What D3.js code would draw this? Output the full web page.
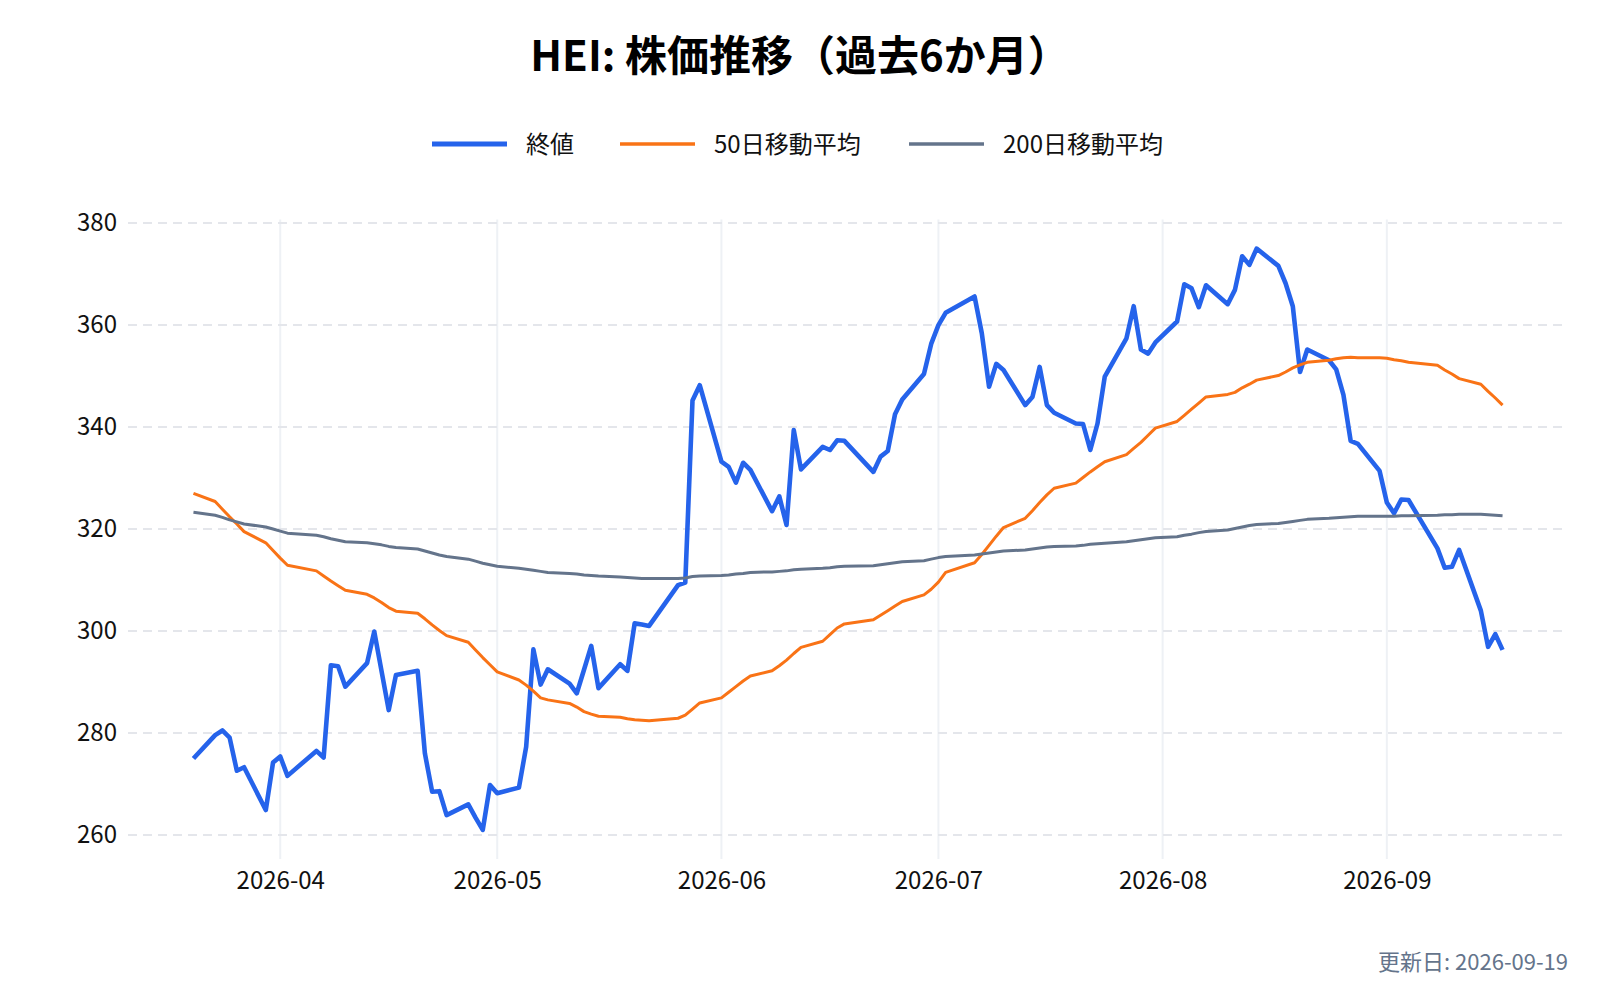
<!DOCTYPE html>
<html lang="ja">
<head>
<meta charset="UTF-8">
<title>HEI: 株価推移</title>
<script src="https://cdn.jsdelivr.net/npm/d3@7"></script>
<style>
  body { margin: 0; background: #fff; }
  svg text { font-family: "Noto Sans CJK JP", "Noto Sans", sans-serif; }
</style>
</head>
<body>
<svg id="chart" width="1600" height="1000"></svg>
<script>
// trading days (US market holidays skipped)
const tradingDays = [
  "2026-03-20","2026-03-23","2026-03-24","2026-03-25","2026-03-26","2026-03-27","2026-03-30","2026-03-31",
  "2026-04-01","2026-04-02","2026-04-06","2026-04-07","2026-04-08","2026-04-09","2026-04-10","2026-04-13",
  "2026-04-14","2026-04-15","2026-04-16","2026-04-17","2026-04-20","2026-04-21","2026-04-22","2026-04-23",
  "2026-04-24","2026-04-27","2026-04-28","2026-04-29","2026-04-30",
  "2026-05-01","2026-05-04","2026-05-05","2026-05-06","2026-05-07","2026-05-08","2026-05-11","2026-05-12",
  "2026-05-13","2026-05-14","2026-05-15","2026-05-18","2026-05-19","2026-05-20","2026-05-21","2026-05-22",
  "2026-05-26","2026-05-27","2026-05-28","2026-05-29",
  "2026-06-01","2026-06-02","2026-06-03","2026-06-04","2026-06-05","2026-06-08","2026-06-09","2026-06-10",
  "2026-06-11","2026-06-12","2026-06-15","2026-06-16","2026-06-17","2026-06-18","2026-06-22","2026-06-23",
  "2026-06-24","2026-06-25","2026-06-26","2026-06-29","2026-06-30",
  "2026-07-01","2026-07-02","2026-07-06","2026-07-07","2026-07-08","2026-07-09","2026-07-10","2026-07-13",
  "2026-07-14","2026-07-15","2026-07-16","2026-07-17","2026-07-20","2026-07-21","2026-07-22","2026-07-23",
  "2026-07-24","2026-07-27","2026-07-28","2026-07-29","2026-07-30","2026-07-31",
  "2026-08-03","2026-08-04","2026-08-05","2026-08-06","2026-08-07","2026-08-10","2026-08-11","2026-08-12",
  "2026-08-13","2026-08-14","2026-08-17","2026-08-18","2026-08-19","2026-08-20","2026-08-21","2026-08-24",
  "2026-08-25","2026-08-26","2026-08-27","2026-08-28","2026-08-31",
  "2026-09-01","2026-09-02","2026-09-03","2026-09-04","2026-09-08","2026-09-09","2026-09-10","2026-09-11",
  "2026-09-14","2026-09-15","2026-09-16","2026-09-17"
];

const closePrices = [
  275.0, 279.6, 280.5, 279.1, 272.6, 273.3, 264.9, 274.2,
  275.4, 271.6, 276.5, 275.2, 293.3, 293.1, 289.1, 293.7, 299.9, 292.2, 284.5, 291.4,
  292.2, 276.0, 268.5, 268.6, 263.9, 266.0, 263.4, 261.0, 269.8,
  268.2, 269.3, 277.3, 296.4, 289.5, 292.5, 289.7, 287.8, 292.4, 297.1, 288.8, 293.5,
  292.2, 301.5, 301.3, 301.0, 309.0, 309.5, 345.2, 348.2,
  333.2, 332.2, 329.1, 333.0, 331.6, 323.5, 326.4, 320.8, 339.4, 331.7, 336.1, 335.5,
  337.4, 337.3, 331.2, 334.2, 335.3, 342.5, 345.4, 350.4, 356.3,
  360.0, 362.4, 365.6, 358.4, 347.9, 352.4, 351.2, 344.3, 345.9, 351.8, 344.3, 342.8,
  340.7, 340.6, 335.5, 340.7, 349.9, 357.4, 363.7, 355.2, 354.4, 356.6,
  360.7, 368.0, 367.2, 363.5, 367.8, 364.1, 366.9, 373.5, 371.8, 375.0, 371.6, 368.2,
  363.7, 350.8, 355.2, 353.1, 351.3, 346.3, 337.3, 336.7, 331.4,
  325.2, 323.1, 325.8, 325.7, 316.2, 312.4, 312.6, 315.9, 304.0, 296.9, 299.4, 296.3
];

const ma50 = [
  327.0, 325.4, 323.9, 322.4, 321.0, 319.5, 317.3, 315.8,
  314.3, 312.9, 311.8, 310.8, 309.8, 308.9, 308.0, 307.2, 306.5, 305.6, 304.6, 303.9,
  303.5, 302.4, 301.2, 300.1, 299.1, 297.8, 296.3, 294.8, 293.4,
  292.0, 290.4, 289.4, 288.2, 286.9, 286.5, 285.8, 285.1, 284.2, 283.7, 283.3, 283.1,
  282.8, 282.6, 282.5, 282.4, 282.9, 283.5, 284.7, 285.9,
  286.9, 288.0, 289.1, 290.2, 291.2, 292.2, 293.2, 294.3, 295.6, 296.8, 298.0, 299.3,
  300.6, 301.4, 302.2, 303.1, 304.0, 304.9, 305.8, 307.1, 308.2,
  309.6, 311.5, 313.4, 315.0, 316.8, 318.6, 320.3, 322.1, 323.6, 325.2, 326.7, 328.0,
  329.0, 330.1, 331.2, 332.2, 333.2, 334.6, 335.8, 337.0, 338.4, 339.8,
  341.1, 342.3, 343.5, 344.7, 345.9, 346.4, 346.8, 347.7, 348.4, 349.2, 350.1, 350.8,
  351.6, 352.2, 352.7, 353.1, 353.4, 353.6, 353.7, 353.6, 353.6,
  353.5, 353.2, 353.0, 352.7, 352.1, 351.2, 350.4, 349.5, 348.4, 347.0, 345.7, 344.3
];

const ma200 = [
  323.3, 322.7, 322.3, 321.8, 321.4, 321.0, 320.4, 320.0,
  319.6, 319.2, 318.8, 318.5, 318.1, 317.8, 317.5, 317.3, 317.1, 316.9, 316.6, 316.4,
  316.1, 315.7, 315.3, 314.9, 314.6, 314.1, 313.7, 313.3, 313.0,
  312.7, 312.3, 312.1, 311.9, 311.7, 311.5, 311.3, 311.2, 311.0, 310.9, 310.8, 310.6,
  310.5, 310.4, 310.3, 310.3, 310.3, 310.4, 310.7, 310.8,
  310.9, 311.0, 311.2, 311.3, 311.5, 311.6, 311.7, 311.8, 312.0, 312.1, 312.3, 312.4,
  312.6, 312.7, 312.8, 313.0, 313.2, 313.4, 313.6, 313.8, 314.1,
  314.4, 314.6, 314.9, 315.1, 315.3, 315.5, 315.7, 315.9, 316.1, 316.3, 316.5, 316.6,
  316.7, 316.8, 317.0, 317.1, 317.2, 317.5, 317.7, 317.9, 318.1, 318.3,
  318.5, 318.8, 319.0, 319.3, 319.5, 319.8, 320.1, 320.4, 320.7, 320.9, 321.1, 321.3,
  321.5, 321.7, 321.9, 322.1, 322.2, 322.3, 322.4, 322.5, 322.5,
  322.5, 322.5, 322.6, 322.6, 322.7, 322.8, 322.8, 322.9, 322.9, 322.8, 322.7, 322.6
];

const monthTicks = ["2026-04-01","2026-05-01","2026-06-01","2026-07-01","2026-08-01","2026-09-01"];
const priceTicks = [260, 280, 300, 320, 340, 360, 380];

const seriesNames = ["終値", "50日移動平均", "200日移動平均"];
const seriesColors = ["#2563eb", "#f97316", "#64748b"];
const seriesWidths = [4.6, 3, 3];

const titleText = "HEI: 株価推移（過去6か月）";
const updatedText = "更新日: 2026-09-19";

// layout
const plot = {left: 128, right: 1568, top: 219.5, bottom: 859};

const parse = d3.utcParse("%Y-%m-%d");
const dates = tradingDays.map(parse);
const series = [closePrices, ma50, ma200];

// padded ranges like the original autorange (5% each side)
const [t0, t1] = d3.extent(dates);
const tPad = (t1 - t0) * 0.05;
const x = d3.scaleUtc()
    .domain([new Date(+t0 - tPad), new Date(+t1 + tPad)])
    .range([plot.left, plot.right]);

const yMin = d3.min(series, s => d3.min(s));
const yMax = d3.max(series, s => d3.max(s));
const yPad = (yMax - yMin) * 0.05;
const y = d3.scaleLinear()
    .domain([yMin - yPad, yMax + yPad])
    .range([plot.bottom, plot.top]);

const svg = d3.select("#chart");

svg.append("rect").attr("width", 1600).attr("height", 1000).attr("fill", "#fff");

// vertical grid
svg.append("g")
  .selectAll("line")
  .data(monthTicks.map(parse))
  .join("line")
    .attr("x1", d => x(d)).attr("x2", d => x(d))
    .attr("y1", plot.top).attr("y2", plot.bottom)
    .attr("stroke", "#eef1f5")
    .attr("stroke-width", 2);

// horizontal grid (dashed)
svg.append("g")
  .selectAll("line")
  .data(priceTicks)
  .join("line")
    .attr("x1", plot.left).attr("x2", plot.right)
    .attr("y1", d => y(d)).attr("y2", d => y(d))
    .attr("stroke", "#e4e6eb")
    .attr("stroke-width", 2)
    .attr("stroke-dasharray", "9,6");

// axes
const xAxis = svg.append("g")
    .attr("transform", `translate(0,${plot.bottom})`)
    .call(d3.axisBottom(x)
      .tickValues(monthTicks.map(parse))
      .tickFormat(d3.utcFormat("%Y-%m"))
      .tickSize(0)
      .tickPadding(13));
xAxis.select(".domain").remove();
xAxis.selectAll("text")
    .attr("font-size", 24)
    .attr("fill", "#111")
    .attr("font-family", "Noto Sans CJK JP, sans-serif");

const yAxis = svg.append("g")
    .attr("transform", `translate(${plot.left},0)`)
    .call(d3.axisLeft(y)
      .tickValues(priceTicks)
      .tickSize(0)
      .tickPadding(11));
yAxis.select(".domain").remove();
yAxis.selectAll("text")
    .attr("font-size", 24)
    .attr("fill", "#111")
    .attr("font-family", "Noto Sans CJK JP, sans-serif");

// lines: close first, moving averages drawn on top
series.forEach((values, i) => {
  const line = d3.line()
      .x((d, j) => x(dates[j]))
      .y(d => y(d));
  svg.append("path")
      .datum(values)
      .attr("fill", "none")
      .attr("stroke", seriesColors[i])
      .attr("stroke-width", seriesWidths[i])
      .attr("stroke-linejoin", "round")
      .attr("d", line);
});

// title
svg.append("text")
    .attr("x", 800).attr("y", 71)
    .attr("text-anchor", "middle")
    .attr("font-size", 42)
    .attr("font-weight", "bold")
    .attr("fill", "#000")
    .text(titleText);

// legend
const legendX = [432, 620, 909];
const legend = svg.append("g").attr("transform", "translate(0,144)");
seriesNames.forEach((name, i) => {
  legend.append("line")
      .attr("x1", legendX[i]).attr("x2", legendX[i] + 75)
      .attr("stroke", seriesColors[i])
      .attr("stroke-width", i === 0 ? 5 : 3.3);
  legend.append("text")
      .attr("x", legendX[i] + 94)
      .attr("dy", "0.36em")
      .attr("font-size", 24)
      .attr("fill", "#111")
      .text(name);
});

// update note
svg.append("text")
    .attr("x", plot.right).attr("y", 970)
    .attr("text-anchor", "end")
    .attr("font-size", 22)
    .attr("fill", "#64748b")
    .text(updatedText);
</script>
</body>
</html>
